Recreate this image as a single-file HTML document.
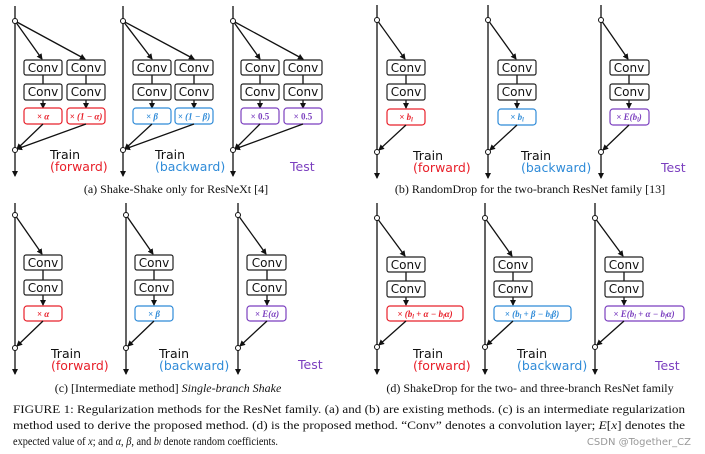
<!DOCTYPE html>
<html><head><meta charset="utf-8"><style>
html,body{margin:0;padding:0;background:#fff;}
svg{display:block;}
.b{fill:#fff;stroke:#222;stroke-width:1.2;}
.ct{font-family:"DejaVu Sans","Liberation Sans",sans-serif;font-size:12px;fill:#111;text-anchor:middle;}
.ln{stroke:#111;stroke-width:1.3;fill:none;}
.nd{fill:#fff;stroke:#111;stroke-width:1;}
.m{font-family:"Liberation Serif",serif;font-size:9px;font-weight:bold;font-style:italic;text-anchor:middle;}
.lb{font-family:"DejaVu Sans","Liberation Sans",sans-serif;font-size:12.5px;}
.cap{font-family:"Liberation Serif",serif;font-size:12px;fill:#111;}
.r{stroke:#e8202a;fill:#fff;stroke-width:1.2;} .rt{fill:#e8202a;}
.u{stroke:#2f8bd8;fill:#fff;stroke-width:1.2;} .ut{fill:#2f8bd8;}
.p{stroke:#7b3fbf;fill:#fff;stroke-width:1.2;} .pt{fill:#7b3fbf;}
</style></head><body>
<svg width="705" height="454" viewBox="0 0 705 454" xmlns="http://www.w3.org/2000/svg">
<defs>
<marker id="a" markerWidth="6" markerHeight="6" refX="5" refY="3" orient="auto" markerUnits="userSpaceOnUse"><path d="M0,0 L6,3 L0,6 z" fill="#111"/></marker>
</defs>

<g>
<line class="ln" x1="15" y1="6" x2="15" y2="176" marker-end="url(#a)"/>
<line class="ln" x1="15" y1="21" x2="42" y2="59" marker-end="url(#a)"/>
<line class="ln" x1="15" y1="21" x2="85" y2="59" marker-end="url(#a)"/>
<line class="ln" x1="43" y1="75" x2="43" y2="84"/><line class="ln" x1="86" y1="75" x2="86" y2="84"/>
<line class="ln" x1="43" y1="100" x2="43" y2="108" marker-end="url(#a)"/><line class="ln" x1="86" y1="100" x2="86" y2="108" marker-end="url(#a)"/>
<rect class="b" x="24" y="60" width="38" height="15" rx="2"/><text class="ct" x="43" y="72">Conv</text>
<rect class="b" x="67" y="60" width="38" height="15" rx="2"/><text class="ct" x="86" y="72">Conv</text>
<rect class="b" x="24" y="84" width="38" height="16" rx="2"/><text class="ct" x="43" y="96">Conv</text>
<rect class="b" x="67" y="84" width="38" height="16" rx="2"/><text class="ct" x="86" y="96">Conv</text>
<rect class="r" x="24" y="108" width="38" height="16" rx="3"/><text class="m rt" x="43" y="119.5">× α</text>
<rect class="r" x="67" y="108" width="38" height="16" rx="3"/><text class="m rt" x="86" y="119.5" font-size="8">× (1 − α)</text>
<line class="ln" x1="43" y1="124" x2="17" y2="149" marker-end="url(#a)"/>
<line class="ln" x1="86" y1="124" x2="17" y2="149" marker-end="url(#a)"/>
<circle class="nd" cx="15" cy="21" r="2.5"/><circle class="nd" cx="15" cy="150" r="2.5"/>
<text class="lb" x="50" y="159" fill="#111">Train</text><text class="lb rt" x="50" y="171">(forward)</text>

<line class="ln" x1="123" y1="6" x2="123" y2="176" marker-end="url(#a)"/>
<line class="ln" x1="123" y1="21" x2="152" y2="59" marker-end="url(#a)"/>
<line class="ln" x1="123" y1="21" x2="194" y2="59" marker-end="url(#a)"/>
<line class="ln" x1="152" y1="75" x2="152" y2="84"/><line class="ln" x1="194" y1="75" x2="194" y2="84"/>
<line class="ln" x1="152" y1="100" x2="152" y2="108" marker-end="url(#a)"/><line class="ln" x1="194" y1="100" x2="194" y2="108" marker-end="url(#a)"/>
<rect class="b" x="133" y="60" width="38" height="15" rx="2"/><text class="ct" x="152" y="72">Conv</text>
<rect class="b" x="175" y="60" width="38" height="15" rx="2"/><text class="ct" x="194" y="72">Conv</text>
<rect class="b" x="133" y="84" width="38" height="16" rx="2"/><text class="ct" x="152" y="96">Conv</text>
<rect class="b" x="175" y="84" width="38" height="16" rx="2"/><text class="ct" x="194" y="96">Conv</text>
<rect class="u" x="133" y="108" width="38" height="16" rx="3"/><text class="m ut" x="152" y="119.5">× β</text>
<rect class="u" x="175" y="108" width="38" height="16" rx="3"/><text class="m ut" x="194" y="119.5" font-size="8">× (1 − β)</text>
<line class="ln" x1="152" y1="124" x2="125" y2="149" marker-end="url(#a)"/>
<line class="ln" x1="194" y1="124" x2="125" y2="149" marker-end="url(#a)"/>
<circle class="nd" cx="123" cy="21" r="2.5"/><circle class="nd" cx="123" cy="150" r="2.5"/>
<text class="lb" x="155" y="159" fill="#111">Train</text><text class="lb ut" x="155" y="171">(backward)</text>

<line class="ln" x1="233" y1="6" x2="233" y2="176" marker-end="url(#a)"/>
<line class="ln" x1="233" y1="21" x2="260" y2="59" marker-end="url(#a)"/>
<line class="ln" x1="233" y1="21" x2="303" y2="59" marker-end="url(#a)"/>
<line class="ln" x1="260" y1="75" x2="260" y2="84"/><line class="ln" x1="303" y1="75" x2="303" y2="84"/>
<line class="ln" x1="260" y1="100" x2="260" y2="108" marker-end="url(#a)"/><line class="ln" x1="303" y1="100" x2="303" y2="108" marker-end="url(#a)"/>
<rect class="b" x="241" y="60" width="38" height="15" rx="2"/><text class="ct" x="260" y="72">Conv</text>
<rect class="b" x="284" y="60" width="38" height="15" rx="2"/><text class="ct" x="303" y="72">Conv</text>
<rect class="b" x="241" y="84" width="38" height="16" rx="2"/><text class="ct" x="260" y="96">Conv</text>
<rect class="b" x="284" y="84" width="38" height="16" rx="2"/><text class="ct" x="303" y="96">Conv</text>
<rect class="p" x="241" y="108" width="38" height="16" rx="3"/><text class="m pt" x="260" y="119.5" style="font-style:normal">× 0.5</text>
<rect class="p" x="284" y="108" width="38" height="16" rx="3"/><text class="m pt" x="303" y="119.5" style="font-style:normal">× 0.5</text>
<line class="ln" x1="260" y1="124" x2="235" y2="149" marker-end="url(#a)"/>
<line class="ln" x1="303" y1="124" x2="235" y2="149" marker-end="url(#a)"/>
<circle class="nd" cx="233" cy="21" r="2.5"/><circle class="nd" cx="233" cy="150" r="2.5"/>
<text class="lb pt" x="290" y="171">Test</text>

<text class="cap" x="176" y="193" text-anchor="middle" font-size="11.5">(a) Shake-Shake only for ResNeXt [4]</text>
</g>

<g>
<line class="ln" x1="377" y1="5" x2="377" y2="178" marker-end="url(#a)"/>
<line class="ln" x1="377" y1="20" x2="405" y2="59" marker-end="url(#a)"/>
<line class="ln" x1="406" y1="75" x2="406" y2="84"/>
<line class="ln" x1="406" y1="100" x2="406" y2="108" marker-end="url(#a)"/>
<rect class="b" x="387" y="60" width="38" height="15" rx="2"/><text class="ct" x="406" y="72">Conv</text>
<rect class="b" x="387" y="84" width="38" height="16" rx="2"/><text class="ct" x="406" y="96">Conv</text>
<rect class="r" x="387" y="109" width="38" height="16" rx="3"/><text class="m rt" x="406" y="120">× b<tspan font-size="6" dy="1.5">l</tspan></text>
<line class="ln" x1="406" y1="125" x2="379" y2="150" marker-end="url(#a)"/>
<circle class="nd" cx="377" cy="20" r="2.5"/><circle class="nd" cx="377" cy="152" r="2.5"/>
<text class="lb" x="413" y="160" fill="#111">Train</text><text class="lb rt" x="413" y="172">(forward)</text>

<line class="ln" x1="488" y1="5" x2="488" y2="178" marker-end="url(#a)"/>
<line class="ln" x1="488" y1="20" x2="516" y2="59" marker-end="url(#a)"/>
<line class="ln" x1="517" y1="75" x2="517" y2="84"/>
<line class="ln" x1="517" y1="100" x2="517" y2="108" marker-end="url(#a)"/>
<rect class="b" x="498" y="60" width="38" height="15" rx="2"/><text class="ct" x="517" y="72">Conv</text>
<rect class="b" x="498" y="84" width="38" height="16" rx="2"/><text class="ct" x="517" y="96">Conv</text>
<rect class="u" x="498" y="109" width="38" height="16" rx="3"/><text class="m ut" x="517" y="120">× b<tspan font-size="6" dy="1.5">l</tspan></text>
<line class="ln" x1="517" y1="125" x2="490" y2="150" marker-end="url(#a)"/>
<circle class="nd" cx="488" cy="20" r="2.5"/><circle class="nd" cx="488" cy="152" r="2.5"/>
<text class="lb" x="521" y="160" fill="#111">Train</text><text class="lb ut" x="521" y="172">(backward)</text>

<line class="ln" x1="601" y1="5" x2="601" y2="178" marker-end="url(#a)"/>
<line class="ln" x1="601" y1="20" x2="628" y2="59" marker-end="url(#a)"/>
<line class="ln" x1="629" y1="75" x2="629" y2="84"/>
<line class="ln" x1="629" y1="100" x2="629" y2="108" marker-end="url(#a)"/>
<rect class="b" x="610" y="60" width="39" height="15" rx="2"/><text class="ct" x="629" y="72">Conv</text>
<rect class="b" x="610" y="84" width="39" height="16" rx="2"/><text class="ct" x="629" y="96">Conv</text>
<rect class="p" x="610" y="109" width="39" height="16" rx="3"/><text class="m pt" x="629" y="120">× E(b<tspan font-size="6" dy="1.5">l</tspan><tspan dy="-1.5">)</tspan></text>
<line class="ln" x1="629" y1="125" x2="603" y2="150" marker-end="url(#a)"/>
<circle class="nd" cx="601" cy="20" r="2.5"/><circle class="nd" cx="601" cy="152" r="2.5"/>
<text class="lb pt" x="661" y="172">Test</text>

<text class="cap" x="530" y="193" text-anchor="middle" font-size="11.5">(b) RandomDrop for the two-branch ResNet family [13]</text>
</g>

<g>
<line class="ln" x1="15" y1="203" x2="15" y2="374" marker-end="url(#a)"/>
<line class="ln" x1="15" y1="215" x2="42" y2="254" marker-end="url(#a)"/>
<line class="ln" x1="43" y1="270" x2="43" y2="280"/>
<line class="ln" x1="43" y1="295" x2="43" y2="305" marker-end="url(#a)"/>
<rect class="b" x="24" y="255" width="38" height="15" rx="2"/><text class="ct" x="43" y="267">Conv</text>
<rect class="b" x="24" y="280" width="38" height="15" rx="2"/><text class="ct" x="43" y="292">Conv</text>
<rect class="r" x="24" y="306" width="38" height="15" rx="3"/><text class="m rt" x="43" y="317">× α</text>
<line class="ln" x1="43" y1="321" x2="17" y2="346" marker-end="url(#a)"/>
<circle class="nd" cx="15" cy="215" r="2.5"/><circle class="nd" cx="15" cy="348" r="2.5"/>
<text class="lb" x="51" y="358" fill="#111">Train</text><text class="lb rt" x="51" y="370">(forward)</text>

<line class="ln" x1="126" y1="203" x2="126" y2="374" marker-end="url(#a)"/>
<line class="ln" x1="126" y1="215" x2="153" y2="254" marker-end="url(#a)"/>
<line class="ln" x1="154" y1="270" x2="154" y2="280"/>
<line class="ln" x1="154" y1="295" x2="154" y2="305" marker-end="url(#a)"/>
<rect class="b" x="135" y="255" width="38" height="15" rx="2"/><text class="ct" x="154" y="267">Conv</text>
<rect class="b" x="135" y="280" width="38" height="15" rx="2"/><text class="ct" x="154" y="292">Conv</text>
<rect class="u" x="135" y="306" width="38" height="15" rx="3"/><text class="m ut" x="154" y="317">× β</text>
<line class="ln" x1="154" y1="321" x2="128" y2="346" marker-end="url(#a)"/>
<circle class="nd" cx="126" cy="215" r="2.5"/><circle class="nd" cx="126" cy="348" r="2.5"/>
<text class="lb" x="159" y="358" fill="#111">Train</text><text class="lb ut" x="159" y="370">(backward)</text>

<line class="ln" x1="238" y1="203" x2="238" y2="374" marker-end="url(#a)"/>
<line class="ln" x1="238" y1="215" x2="266" y2="254" marker-end="url(#a)"/>
<line class="ln" x1="267" y1="270" x2="267" y2="280"/>
<line class="ln" x1="267" y1="295" x2="267" y2="305" marker-end="url(#a)"/>
<rect class="b" x="247" y="255" width="39" height="15" rx="2"/><text class="ct" x="267" y="267">Conv</text>
<rect class="b" x="247" y="280" width="39" height="15" rx="2"/><text class="ct" x="267" y="292">Conv</text>
<rect class="p" x="247" y="306" width="39" height="15" rx="3"/><text class="m pt" x="267" y="317">× E(α)</text>
<line class="ln" x1="267" y1="321" x2="240" y2="346" marker-end="url(#a)"/>
<circle class="nd" cx="238" cy="215" r="2.5"/><circle class="nd" cx="238" cy="348" r="2.5"/>
<text class="lb pt" x="298" y="369">Test</text>

<text class="cap" x="168" y="392" text-anchor="middle" font-size="11.5">(c) [Intermediate method] <tspan font-style="italic">Single-branch Shake</tspan></text>
</g>

<g>
<line class="ln" x1="377" y1="203" x2="377" y2="374" marker-end="url(#a)"/>
<line class="ln" x1="377" y1="218" x2="405" y2="256" marker-end="url(#a)"/>
<line class="ln" x1="406" y1="272" x2="406" y2="281"/>
<line class="ln" x1="406" y1="297" x2="406" y2="305" marker-end="url(#a)"/>
<rect class="b" x="387" y="257" width="38" height="15" rx="2"/><text class="ct" x="406" y="269">Conv</text>
<rect class="b" x="387" y="281" width="38" height="16" rx="2"/><text class="ct" x="406" y="293">Conv</text>
<rect class="r" x="387" y="306" width="76" height="15" rx="3"/><text class="m rt" x="425" y="317">× (b<tspan font-size="6" dy="1.5">l</tspan><tspan dy="-1.5"> + α − b</tspan><tspan font-size="6" dy="1.5">l</tspan><tspan dy="-1.5">α)</tspan></text>
<line class="ln" x1="406" y1="321" x2="379" y2="345" marker-end="url(#a)"/>
<circle class="nd" cx="377" cy="218" r="2.5"/><circle class="nd" cx="377" cy="347" r="2.5"/>
<text class="lb" x="413" y="358" fill="#111">Train</text><text class="lb rt" x="413" y="370">(forward)</text>

<line class="ln" x1="485" y1="203" x2="485" y2="374" marker-end="url(#a)"/>
<line class="ln" x1="485" y1="218" x2="512" y2="256" marker-end="url(#a)"/>
<line class="ln" x1="513" y1="272" x2="513" y2="281"/>
<line class="ln" x1="513" y1="297" x2="513" y2="305" marker-end="url(#a)"/>
<rect class="b" x="494" y="257" width="38" height="15" rx="2"/><text class="ct" x="513" y="269">Conv</text>
<rect class="b" x="494" y="281" width="38" height="16" rx="2"/><text class="ct" x="513" y="293">Conv</text>
<rect class="u" x="494" y="306" width="77" height="15" rx="3"/><text class="m ut" x="532" y="317">× (b<tspan font-size="6" dy="1.5">l</tspan><tspan dy="-1.5"> + β − b</tspan><tspan font-size="6" dy="1.5">l</tspan><tspan dy="-1.5">β)</tspan></text>
<line class="ln" x1="513" y1="321" x2="487" y2="345" marker-end="url(#a)"/>
<circle class="nd" cx="485" cy="218" r="2.5"/><circle class="nd" cx="485" cy="347" r="2.5"/>
<text class="lb" x="517" y="358" fill="#111">Train</text><text class="lb ut" x="517" y="370">(backward)</text>

<line class="ln" x1="595" y1="203" x2="595" y2="374" marker-end="url(#a)"/>
<line class="ln" x1="595" y1="218" x2="623" y2="256" marker-end="url(#a)"/>
<line class="ln" x1="624" y1="272" x2="624" y2="281"/>
<line class="ln" x1="624" y1="297" x2="624" y2="305" marker-end="url(#a)"/>
<rect class="b" x="605" y="257" width="38" height="15" rx="2"/><text class="ct" x="624" y="269">Conv</text>
<rect class="b" x="605" y="281" width="38" height="16" rx="2"/><text class="ct" x="624" y="293">Conv</text>
<rect class="p" x="605" y="306" width="79" height="15" rx="3"/><text class="m pt" x="644" y="317">× E(b<tspan font-size="6" dy="1.5">l</tspan><tspan dy="-1.5"> + α − b</tspan><tspan font-size="6" dy="1.5">l</tspan><tspan dy="-1.5">α)</tspan></text>
<line class="ln" x1="624" y1="321" x2="597" y2="345" marker-end="url(#a)"/>
<circle class="nd" cx="595" cy="218" r="2.5"/><circle class="nd" cx="595" cy="347" r="2.5"/>
<text class="lb pt" x="655" y="370">Test</text>

<text class="cap" x="530" y="392" text-anchor="middle" font-size="11.5">(d) ShakeDrop for the two- and three-branch ResNet family</text>
</g>

<text class="cap" x="13" y="413" textLength="672" lengthAdjust="spacingAndGlyphs">FIGURE 1: Regularization methods for the ResNet family. (a) and (b) are existing methods. (c) is an intermediate regularization</text>
<text class="cap" x="13" y="429" textLength="672" lengthAdjust="spacingAndGlyphs">method used to derive the proposed method. (d) is the proposed method. “Conv” denotes a convolution layer; <tspan font-style="italic">E</tspan>[<tspan font-style="italic">x</tspan>] denotes the</text>
<text class="cap" x="13" y="445" textLength="265" lengthAdjust="spacingAndGlyphs">expected value of <tspan font-style="italic">x</tspan>; and <tspan font-style="italic">α</tspan>, <tspan font-style="italic">β</tspan>, and <tspan font-style="italic">b</tspan><tspan font-style="italic" font-size="8">l</tspan> denote random coefficients.</text>
<text x="691" y="445" text-anchor="end" font-family="DejaVu Sans,sans-serif" font-size="10" fill="#999">CSDN @Together_CZ</text>
</svg>
</body></html>
